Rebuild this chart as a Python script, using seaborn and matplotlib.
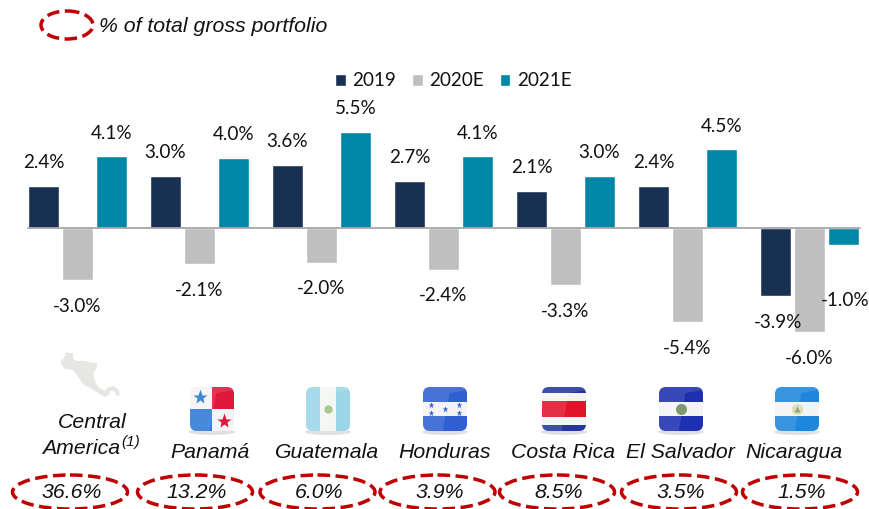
import numpy as np
import pandas as pd
import matplotlib
matplotlib.use("Agg")
import matplotlib.pyplot as plt
import seaborn as sns
from matplotlib.patches import Ellipse, FancyBboxPatch, Polygon, Rectangle

countries = ["Central America", "Panamá", "Guatemala", "Honduras", "Costa Rica", "El Salvador", "Nicaragua"]
years = ["2019", "2020E", "2021E"]
values_2019 = [2.4, 3.0, 3.6, 2.7, 2.1, 2.4, -3.9]
values_2020 = [-3.0, -2.1, -2.0, -2.4, -3.3, -5.4, -6.0]
values_2021 = [4.1, 4.0, 5.5, 4.1, 3.0, 4.5, -1.0]
portfolio_share = ["36.6%", "13.2%", "6.0%", "3.9%", "8.5%", "3.5%", "1.5%"]

NAVY = "#183153"
GRAY = "#BFBFBF"
TEAL = "#0087A8"
RED = "#C00000"
W, H = 869, 509
PX_PER_UNIT = 17.4
ZERO_Y = 227.8
BODY = "Lato"
ITALIC = "Liberation Sans"

sns.set_theme(style="white")
df = pd.DataFrame({
    "country": countries * 3,
    "year": np.repeat(years, len(countries)),
    "value": values_2019 + values_2020 + values_2021,
})

fig = plt.figure(figsize=(W / 100, H / 100), dpi=100)
ax = fig.add_axes([0, 0, 1, 1])
sns.barplot(data=df, x="country", y="value", hue="year", order=countries, hue_order=years,
            palette=[NAVY, GRAY, TEAL], width=0.836, gap=0.07, saturation=1, ax=ax)
ax.set_xlim(-77.5 / 122, (W - 77.5) / 122)
ax.set_ylim((ZERO_Y - H) / PX_PER_UNIT, ZERO_Y / PX_PER_UNIT)
ax.set_xlabel("")
ax.set_ylabel("")
ax.set_xticks([])
ax.set_yticks([])
sns.despine(ax=ax, left=True, bottom=True)
ax.patch.set_alpha(0)

# baseline starts at the first bar
ax.plot([(28 - 77.5) / 122, (860 - 77.5) / 122], [0, 0], color="#A6A6A6", lw=1.3, zorder=5)

# value labels, offset in points from the bar end
for container, vals in zip(ax.containers, [values_2019, values_2020, values_2021]):
    for bar, v in zip(container, vals):
        x = bar.get_x() + bar.get_width() / 2
        off = 16.8 if v >= 0 else -19
        dx = 0
        if v == -1.0:
            off, dx = -40, 1.5
        if v == -3.9:
            dx = 1.5
        ax.annotate(f"{v:.1f}%", (x, v), xytext=(dx, off), textcoords="offset points",
                    ha="center", va="center", fontsize=13.6, family=BODY, color="#111111")

handles, labels = ax.get_legend_handles_labels()
leg = ax.legend(handles, labels, loc="center", bbox_to_anchor=(453 / W, 1 - 81 / H), ncol=3,
                frameon=False, handlelength=0.58, handleheight=0.58, handletextpad=0.33,
                columnspacing=0.85, prop={"family": BODY, "size": 13.6})
for t in leg.get_texts():
    t.set_color("#111111")

# second axes in pixels for the decoration under the chart
ov = fig.add_axes([0, 0, 1, 1], zorder=3)
ov.set_xlim(0, W)
ov.set_ylim(H, 0)
ov.axis("off")


def dashed_ellipse(cx, cy, w, h):
    ov.add_patch(Ellipse((cx, cy), w, h, fill=False, ec=RED, lw=2.5, ls=(0, (3.6, 1.6))))


def flag(x, parts, marks=()):
    y, s = 387, 44
    ov.add_patch(Ellipse((x + s / 2, y + s + 1), s + 2, 6, fc="#BBBBBB", ec="none", alpha=0.45))
    clip = FancyBboxPatch((x + 4, y + 4), s - 8, s - 8, boxstyle="round,pad=4,rounding_size=7",
                          fc="none", ec="none")
    ov.add_patch(clip)
    for px, py, pw, ph, col in parts:
        r = Rectangle((x + px * s, y + py * s), pw * s, ph * s, fc=col, ec="none")
        ov.add_patch(r)
        r.set_clip_path(clip)
    for mx, my, mk, ms, col in marks:
        ov.plot(x + mx * s, y + my * s, marker=mk, ms=ms, color=col, mec="none", ls="none")
    # glossy highlight on the left/top of the icon
    gloss = Polygon([(x, y), (x + s, y), (x + s, y + 3), (x + s * 0.6, y + 6), (x + s * 0.45, y + s), (x, y + s)],
                    fc="white", ec="none", alpha=0.12)
    ov.add_patch(gloss)
    gloss.set_clip_path(clip)


# flags
flag(190, [(0, 0, 1, 1, "#F4F4F4"), (0.5, 0, 0.5, 0.5, "#E0173D"), (0, 0.5, 0.5, 0.5, "#2F7AD6")],
     [(0.23, 0.23, "*", 11, "#3F87DA"), (0.77, 0.77, "*", 11, "#E0173D")])
flag(306, [(0, 0, 1, 1, "#F4F6F4"), (0, 0, 0.31, 1, "#9BD6E8"), (0.69, 0, 0.31, 1, "#9BD6E8")],
     [(0.5, 0.5, "o", 6, "#A9C98F")])
flag(423, [(0, 0, 1, 1, "#2F5FD0"), (0, 0.33, 1, 0.34, "#F4F4F4")],
     [(0.18, 0.41, "*", 4.5, "#2F5FD0"), (0.18, 0.6, "*", 4.5, "#2F5FD0"), (0.5, 0.5, "*", 4.5, "#2F5FD0"),
      (0.82, 0.41, "*", 4.5, "#2F5FD0"), (0.82, 0.6, "*", 4.5, "#2F5FD0")])
flag(542, [(0, 0, 1, 1, "#F4F4F4"), (0, 0, 1, 0.14, "#24379B"), (0, 0.86, 1, 0.14, "#24379B"),
           (0, 0.31, 1, 0.38, "#E0142B")])
flag(659, [(0, 0, 1, 1, "#1E2FB0"), (0, 0.33, 1, 0.34, "#F4F4F4")],
     [(0.5, 0.5, "o", 8, "#7C9A6A")])
flag(775, [(0, 0, 1, 1, "#1E86DC"), (0, 0.33, 1, 0.34, "#F4F4F4")],
     [(0.5, 0.5, "o", 8, "#E6DDB0"), (0.5, 0.5, "^", 4.5, "#7FB08A")])

# Central America outline
map_zoom = [(33, 45), (40, 42), (48, 22), (70, 25), (68, 38), (78, 48), (100, 47), (120, 52), (142, 55),
            (140, 70), (130, 85), (132, 100), (138, 115), (147, 128), (165, 138), (175, 127), (190, 123),
            (207, 135), (209, 152), (199, 152), (194, 139), (182, 137), (176, 150), (165, 155), (150, 148),
            (128, 133), (100, 118), (82, 92), (68, 75), (45, 72), (35, 60)]
ov.add_patch(Polygon([(50 + a / 3, 345 + b / 3) for a, b in map_zoom], fc="#E6E6E2", ec="none"))

# country names
name_kw = dict(ha="center", va="center", fontsize=15.3, style="italic", family=ITALIC, color="#111111")
ov.text(92, 422, "Central", **name_kw)
ov.text(81.5, 448, "America", **name_kw)
ov.text(130.5, 442, "(1)", ha="center", va="center", fontsize=11, style="italic", family=ITALIC, color="#111111")
name_x = [210, 327.5, 445, 563.5, 680, 794]
for nx, name in zip(name_x, countries[1:]):
    ov.text(nx, 453, name, **name_kw)

# share ellipses
ell_x = [70, 195, 317.5, 437.5, 557, 679, 800]
for ex, share in zip(ell_x, portfolio_share):
    dashed_ellipse(ex, 492, 115, 34)
    ov.text(ex + 2, 492, share, ha="center", va="center", fontsize=15.3, style="italic",
            family=ITALIC, color="#111111")

dashed_ellipse(67, 25, 52, 28)
ov.text(99, 26, "% of total gross portfolio", ha="left", va="center", fontsize=15.3, style="italic",
        family=ITALIC, color="#111111")

fig.savefig("out.png", dpi=100)
